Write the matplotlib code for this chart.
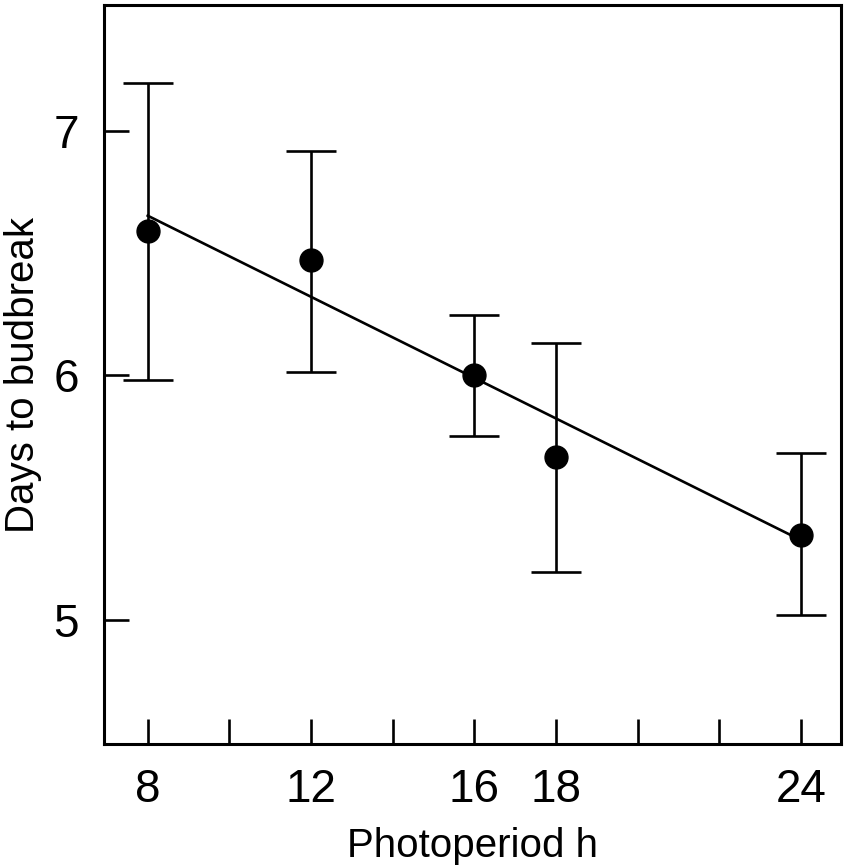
import numpy as np
import matplotlib.pyplot as plt

plt.rcParams['font.family'] = ['Liberation Sans', 'DejaVu Sans']

# data
photoperiod = [8, 12, 16, 18, 24]
days = [6.59, 6.47, 6.00, 5.665, 5.35]
err_hi = [7.196, 6.918, 6.249, 6.131, 5.682]
err_lo = [5.980, 6.016, 5.751, 5.196, 5.020]
fit_x = [8, 24]
fit_y = [6.653, 5.327]

xticks = [8, 10, 12, 14, 16, 18, 20, 22, 24]
xticklabels = ['8', '', '12', '', '16', '18', '', '', '24']
yticks = [5, 6, 7]

days = np.array(days)
yerr = [days - np.array(err_lo), np.array(err_hi) - days]

fig = plt.figure(figsize=(8.5, 8.67), dpi=100)
ax = fig.add_axes([0.1224, 0.1419, 0.8670, 0.8523])

ax.plot(fit_x, fit_y, color='black', lw=1.9, zorder=2)
ax.errorbar(photoperiod, days, yerr=yerr, fmt='o', color='black', ms=16.5,
            ecolor='black', elinewidth=1.9, capsize=18, capthick=1.9, zorder=3)

ax.set_xlim(6.93, 24.98)
ax.set_ylim(4.494, 7.514)
ax.set_xticks(xticks)
ax.set_xticklabels(xticklabels)
ax.set_yticks(yticks)
ax.tick_params(direction='in', length=18, width=1.9, labelsize=33)
ax.tick_params(axis='x', pad=17)
ax.tick_params(axis='y', pad=18)
for s in ax.spines.values():
    s.set_linewidth(2.2)

ax.set_xlabel('Photoperiod h', fontsize=29, labelpad=11)
ax.set_ylabel('Days to budbreak', fontsize=29, labelpad=8)

fig.savefig('out.png', dpi=100)
